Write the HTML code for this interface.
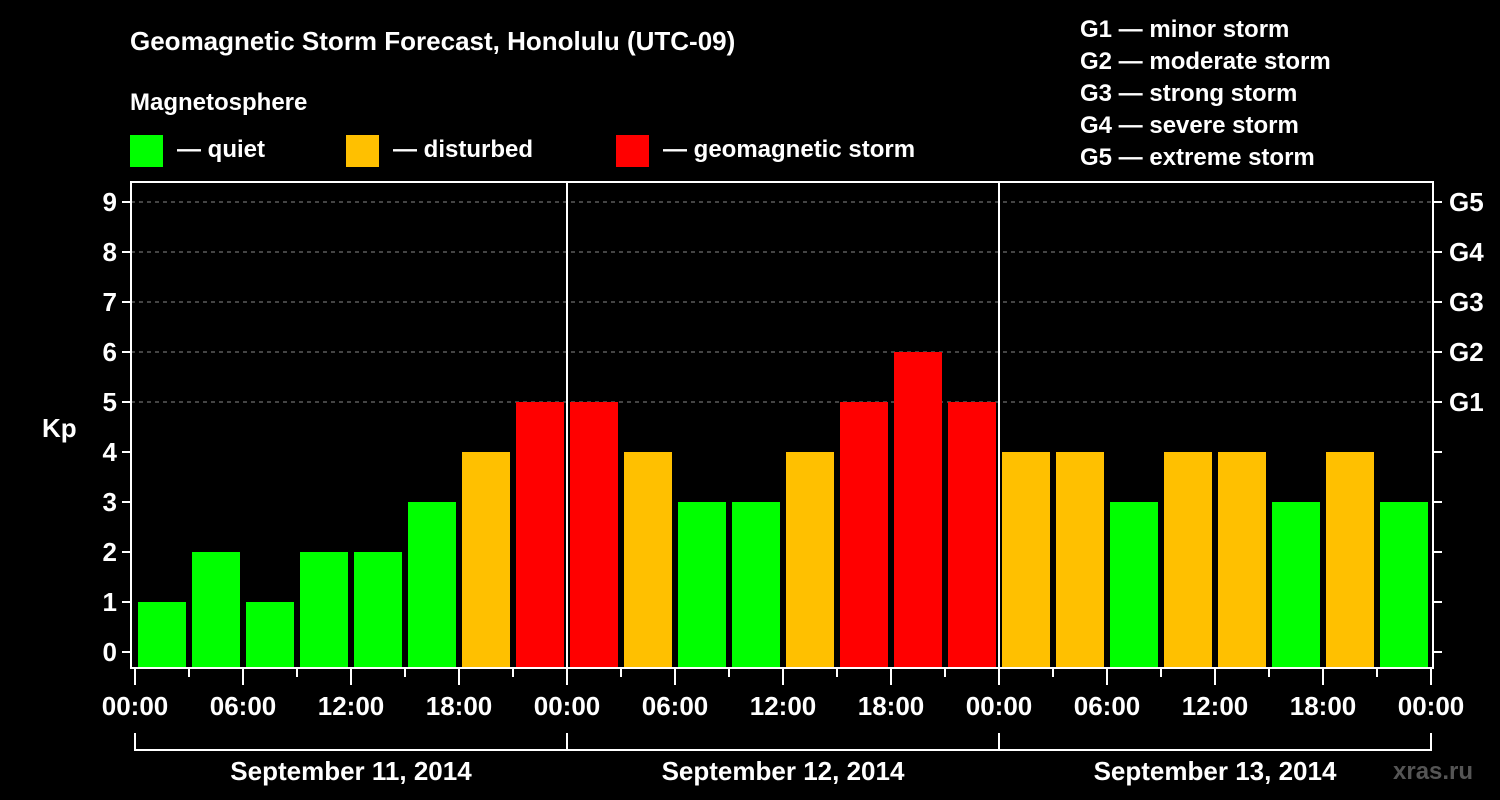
<!DOCTYPE html>
<html><head><meta charset="utf-8">
<style>
html,body{margin:0;padding:0;background:#000;}
svg{display:block;font-family:"Liberation Sans",Arial,sans-serif;font-weight:bold;}
</style></head>
<body>
<svg id="chart" width="1500" height="800" viewBox="0 0 1500 800">
<rect width="1500" height="800" fill="#000"/>
<text x="130" y="50" fill="#fff" font-size="26">Geomagnetic Storm Forecast, Honolulu (UTC-09)</text>
<text x="130" y="110" fill="#fff" font-size="24">Magnetosphere</text>
<g>
<rect x="130" y="135" width="33" height="32" fill="#00ff00"/>
<text x="177" y="157" fill="#fff" font-size="24">— quiet</text>
<rect x="346" y="135" width="33" height="32" fill="#ffc000"/>
<text x="393" y="157" fill="#fff" font-size="24">— disturbed</text>
<rect x="616" y="135" width="33" height="32" fill="#ff0000"/>
<text x="663" y="157" fill="#fff" font-size="24">— geomagnetic storm</text>
</g>
<g fill="#fff" font-size="24">
<text x="1080" y="37">G1 — minor storm</text>
<text x="1080" y="69">G2 — moderate storm</text>
<text x="1080" y="101">G3 — strong storm</text>
<text x="1080" y="133">G4 — severe storm</text>
<text x="1080" y="165">G5 — extreme storm</text>
</g>
<text x="42" y="437" fill="#fff" font-size="26">Kp</text>
<text x="1393" y="779" fill="#555" font-size="24">xras.ru</text>
<g id="plot"></g>
</svg>
<script>
const kpValues = [1,2,1,2,2,3,4,5, 5,4,3,3,4,5,6,5, 4,4,3,4,4,3,4,3];
const yTicks = [0,1,2,3,4,5,6,7,8,9];
const gLabels = ["G1","G2","G3","G4","G5"];
const gLevels = [5,6,7,8,9];
const hourLabels = ["00:00","06:00","12:00","18:00","00:00","06:00","12:00","18:00","00:00","06:00","12:00","18:00","00:00"];
const dayLabels = ["September 11, 2014","September 12, 2014","September 13, 2014"];

const NS="http://www.w3.org/2000/svg";
const plot=document.getElementById('plot');
const X0=135, HOURPX=18, Y0=652, UNIT=50, TOP=182, BOT=668, LEFT=131, RIGHT=1433;
const x=h=>X0+h*HOURPX;
const y=v=>Y0-v*UNIT;
function mk(tag,attrs){const e=document.createElementNS(NS,tag);for(const k in attrs)e.setAttribute(k,attrs[k]);plot.appendChild(e);return e;}
function col(v){return v>=5?"#ff0000":(v>=4?"#ffc000":"#00ff00");}

// grid
gLevels.forEach((g,i)=>{
  const l=mk('line',{x1:LEFT,x2:RIGHT,y1:y(g),y2:y(g),stroke:"#888","stroke-dasharray":"4,4","stroke-width":1});
  
  
});
// bars
kpValues.forEach((v,i)=>{
  const r=mk('rect',{x:x(i*3)+3,y:y(v),width:48,height:BOT-y(v),fill:col(v)});
  
  
});
// frame
const f=mk('rect',{x:LEFT,y:TOP,width:RIGHT-LEFT,height:BOT-TOP,fill:"none",stroke:"#fff","stroke-width":2});


[24,48].forEach(h=>{
  const l=mk('line',{x1:x(h),x2:x(h),y1:TOP,y2:BOT,stroke:"#fff","stroke-width":2});
  
  
});
// y ticks
yTicks.forEach(v=>{
  const t=mk('line',{x1:LEFT-9,x2:LEFT,y1:y(v),y2:y(v),stroke:"#fff","stroke-width":2});
  
  
  const t2=mk('line',{x1:RIGHT,x2:RIGHT+9,y1:y(v),y2:y(v),stroke:"#fff","stroke-width":2});
  
  
  const lb=mk('text',{x:LEFT-14,y:y(v)+9,fill:"#fff","font-size":26,"text-anchor":"end"});
  lb.textContent=v;
  
  
});
gLabels.forEach((g,i)=>{
  const lb=mk('text',{x:RIGHT+16,y:y(gLevels[i])+9,fill:"#fff","font-size":26});
  lb.textContent=g;
  
  
});
// x ticks
for(let h=0;h<=72;h+=3){
  const major=h%6===0;
  const t=mk('line',{x1:x(h),x2:x(h),y1:BOT,y2:BOT+(major?17:9),stroke:"#fff","stroke-width":2});
  
  
}
hourLabels.forEach((s,i)=>{
  const lb=mk('text',{x:x(i*6),y:715,fill:"#fff","font-size":26,"text-anchor":"middle"});
  lb.textContent=s;
  
  
});
// day brackets
const br=mk('path',{d:`M${x(0)},733 V750 H${x(72)} V733 M${x(24)},733 V750 M${x(48)},733 V750`,stroke:"#fff","stroke-width":2,fill:"none"});


dayLabels.forEach((s,i)=>{
  const lb=mk('text',{x:x(i*24+12),y:780,fill:"#fff","font-size":26,"text-anchor":"middle"});
  lb.textContent=s;
  
  
});
</script>
</body></html>
